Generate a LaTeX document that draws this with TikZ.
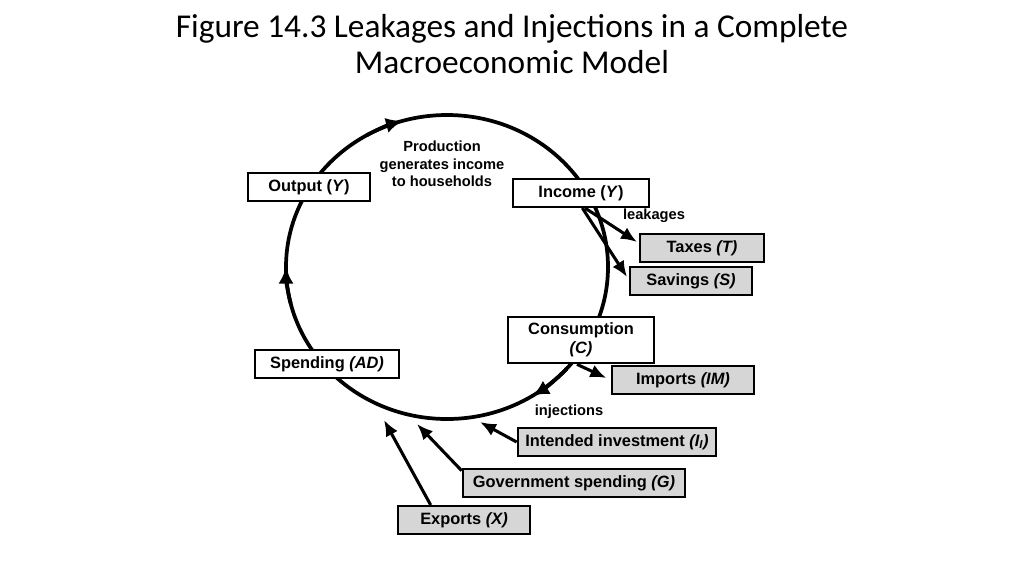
\documentclass[tikz,border=0pt]{standalone}
\usepackage{fontspec}
\setmainfont{Liberation Sans}
\newfontfamily\titlefont{Carlito}
\usetikzlibrary{shapes,arrows.meta}
\tikzstyle{block} = [rectangle, draw, line width=1.5pt, fill=white, text centered, minimum height=21pt, inner sep=2pt, font=\bfseries\fontsize{12.3}{14}\selectfont]
\tikzstyle{leak} = [block, fill=black!16]
\tikzstyle{line} = [draw, line width=2.3pt, -{Latex[length=12pt, width=10pt]}]
\tikzstyle{cycle} = [line width=2.8pt]
\tikzstyle{cyclehead} = [draw, line width=2.8pt, -{Latex[length=12.5pt, width=11.5pt]}]

\begin{document}
\begin{tikzpicture}[x=0.75pt, y=-0.75pt]
\useasboundingbox (0,0) rectangle (1024,576);

\node [align=center, font=\titlefont\fontsize{25}{27}\selectfont] (title) at (512,44) {Figure 14.3 Leakages and Injections in a Complete\\Macroeconomic Model};

% the circular flow
\coordinate (c) at (447,267);
\draw [cycle] (c) ellipse [x radius=161, y radius=152];
\path [cyclehead] (c) ++(-120:161 and 152) arc [start angle=-120, end angle=-106, x radius=161, y radius=152];
\path [cyclehead] (c) ++(166:161 and 152) arc [start angle=166, end angle=180, x radius=161, y radius=152];
\path [cyclehead] (c) ++(42:161 and 152) arc [start angle=42, end angle=58, x radius=161, y radius=152];

\node [block, minimum width=92pt] (output) at (309,187) {Output (\textit{Y})};
\node [block, minimum width=102pt] (income) at (581,193) {Income (\textit{Y})};
\node [block, minimum width=110pt, minimum height=35pt, align=center] (consumption) at (581,340) {Consumption\\\textit{(C)}};
\node [block, minimum width=108pt] (spending) at (327,364) {Spending \textit{(AD)}};

\node [align=center, font=\bfseries\fontsize{11}{13}\selectfont] (production) at (442,164) {Production\\generates income\\to households};

% leakages
\node [leak, minimum width=93pt] (taxes) at (702,248) {Taxes \textit{(T)}};
\node [leak, minimum width=91.5pt] (savings) at (691,281) {Savings \textit{(S)}};
\node [leak, minimum width=106.5pt] (imports) at (683,380) {Imports \textit{(IM)}};
\node [font=\bfseries\fontsize{11}{13}\selectfont] (leakages) at (654,216) {leakages};

% injections
\node [leak, minimum width=149pt] (investment) at (617,442) {Intended investment \textit{(I\textsubscript{I})}};
\node [leak, minimum width=167pt] (government) at (574,483) {Government spending \textit{(G)}};
\node [leak, minimum width=99pt] (exports) at (464,520) {Exports \textit{(X)}};
\node [font=\bfseries\fontsize{11}{13}\selectfont] (injections) at (569,412) {injections};

\coordinate (invin) at (480,422);
\coordinate (govin) at (417,424);
\coordinate (expin) at (384,420);

\path [line] ([xshift=3pt]income.south) -- ([xshift=-1.5pt, yshift=4.5pt]taxes.west);
\path [line] ([xshift=1pt]income.south) -- ([xshift=-1.5pt, yshift=3pt]savings.west);
\path [line] ([xshift=-3pt]consumption.south) -- ([xshift=-3.5pt, yshift=1.5pt]imports.west);

\path [line] (investment.west) -- (invin);
\path [line] ([yshift=-2pt]government.north west) -- (govin);
\path [line] ([xshift=-25pt]exports.north) -- (expin);

\end{tikzpicture}
\end{document}
